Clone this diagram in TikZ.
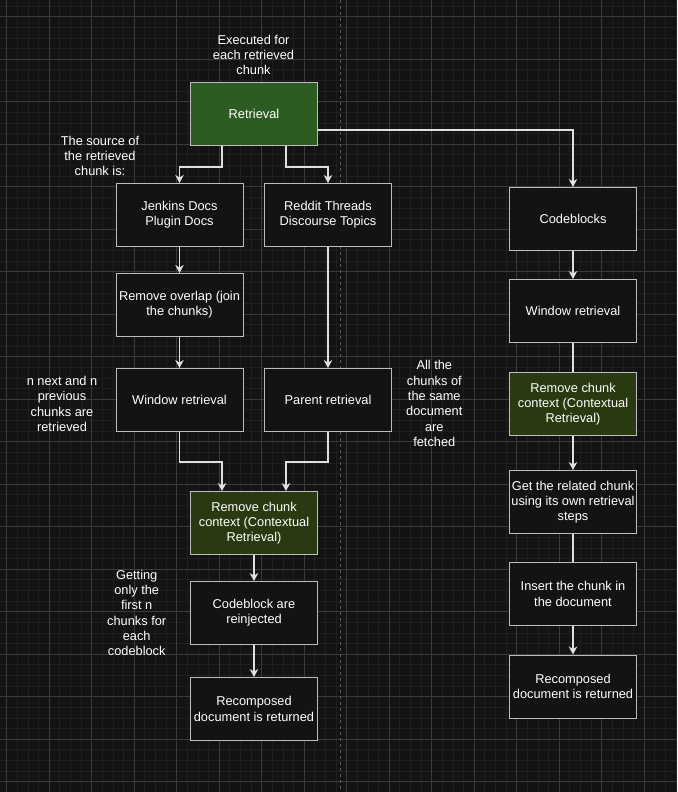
\documentclass[tikz,border=0pt]{standalone}
\usepackage{fontspec}
\setmainfont{Liberation Sans}
\usetikzlibrary{arrows.meta}
\definecolor{bgc}{HTML}{131313}
\definecolor{gridminor}{HTML}{1F1F1F}
\definecolor{gridmajor}{HTML}{3A3A3A}
\definecolor{pagedash}{HTML}{5A5A5A}
\definecolor{boxborder}{HTML}{BDBDBD}
\definecolor{edgec}{HTML}{E0E0E0}
\definecolor{retgreen}{RGB}{45,92,35}
\definecolor{ctxolive}{RGB}{42,58,16}
\tikzset{
  stepbox/.style={draw=boxborder, line width=1pt, fill=bgc, minimum width=127pt, minimum height=63pt,
    align=center, text=white, inner sep=2pt, font=\fontsize{12.8}{15.3}\selectfont},
  retbox/.style={stepbox, fill=retgreen},
  ctxbox/.style={stepbox, fill=ctxolive},
  note/.style={align=center, text=white, inner sep=0pt, font=\fontsize{12.8}{15.3}\selectfont},
  edge/.style={draw=edgec, line width=1.1pt},
  arr/.style={edge, -{Stealth[length=8pt,width=8.5pt,inset=2.5pt]}},
  minorline/.style={draw=gridminor, line width=0.8pt},
  majorline/.style={draw=gridmajor, line width=1pt}
}
\begin{document}
\begin{tikzpicture}[x=1pt,y=-1pt]
\useasboundingbox (0,0) rectangle (677,792);
\fill[bgc] (0,0) rectangle (677,792);
\begin{scope}
\clip (0,0) rectangle (677,792);
\foreach \i in {0,...,64} { \draw[minorline] ({-3.955+10.625*\i},0) -- ++(0,792); }
\foreach \i in {0,...,76} { \draw[minorline] (0,{-4.58+10.625*\i}) -- ++(677,0); }
\foreach \i in {0,...,15} { \draw[majorline] ({6.67+42.5*\i},0) -- ++(0,792); }
\foreach \i in {0,...,18} { \draw[majorline] (0,{16.67+42.5*\i}) -- ++(677,0); }
\draw[pagedash, line width=1pt, dash pattern=on 3pt off 3pt] (340.7,0) -- (340.7,792);
\end{scope}

% nodes
\node[retbox] (ret) at (254,114) {Retrieval};
\node[stepbox] (jen) at (179.5,215) {Jenkins Docs\\Plugin Docs};
\node[stepbox] (red) at (328,215) {Reddit Threads\\Discourse Topics};
\node[stepbox] (cod) at (573,219) {Codeblocks};
\node[stepbox] (ovl) at (179.5,305) {Remove overlap (join\\the chunks)};
\node[stepbox] (winr) at (573,311) {Window retrieval};
\node[stepbox] (winl) at (179.5,400) {Window retrieval};
\node[stepbox] (par) at (328,400) {Parent retrieval};
\node[ctxbox] (rccr) at (573,404) {Remove chunk\\context (Contextual\\Retrieval)};
\node[stepbox] (get) at (573,502) {Get the related chunk\\using its own retrieval\\steps};
\node[stepbox] (ins) at (573,594) {Insert the chunk in\\the document};
\node[stepbox] (recr) at (573,686.5) {Recomposed\\document is returned};
\node[ctxbox] (rccl) at (254,523) {Remove chunk\\context (Contextual\\Retrieval)};
\node[stepbox] (cbr) at (254,613) {Codeblock are\\reinjected};
\node[stepbox] (recl) at (254,709) {Recomposed\\document is returned};

% notes
\node[note] (exec) at (253.5,55) {Executed for\\each retrieved\\chunk};
\node[note] (src) at (100,156) {The source of\\the retrieved\\chunk is:};
\node[note] (nnext) at (62,404) {n next and n\\previous\\chunks are\\retrieved};
\node[note] (allc) at (434.3,403.5) {All the\\chunks of\\the same\\document\\are\\fetched};
\node[note] (getn) at (136.7,613) {Getting\\only the\\first n\\chunks for\\each\\codeblock};

% connectors
\draw[arr] ([xshift=-32pt]ret.south) -- ++(0,21) -| (jen.north);
\draw[arr] ([xshift=32pt]ret.south) -- ++(0,21) -| (red.north);
\draw[arr] ([yshift=-16pt]ret.east) -| (cod.north);
\draw[arr] (jen) -- (ovl);
\draw[arr] (ovl) -- (winl);
\draw[arr] (red) -- (par);
\draw[arr] (winl.south) -- ++(0,30) -| ([xshift=-32pt]rccl.north);
\draw[arr] (par.south) -- ++(0,30) -| ([xshift=32pt]rccl.north);
\draw[arr] (rccl) -- (cbr);
\draw[arr] (cbr) -- (recl);
\draw[arr] (cod) -- (winr);
\draw[edge] (winr) -- (rccr);
\draw[arr] (rccr) -- (get);
\draw[edge] (get) -- (ins);
\draw[arr] (ins) -- (recr);
\end{tikzpicture}
\end{document}
